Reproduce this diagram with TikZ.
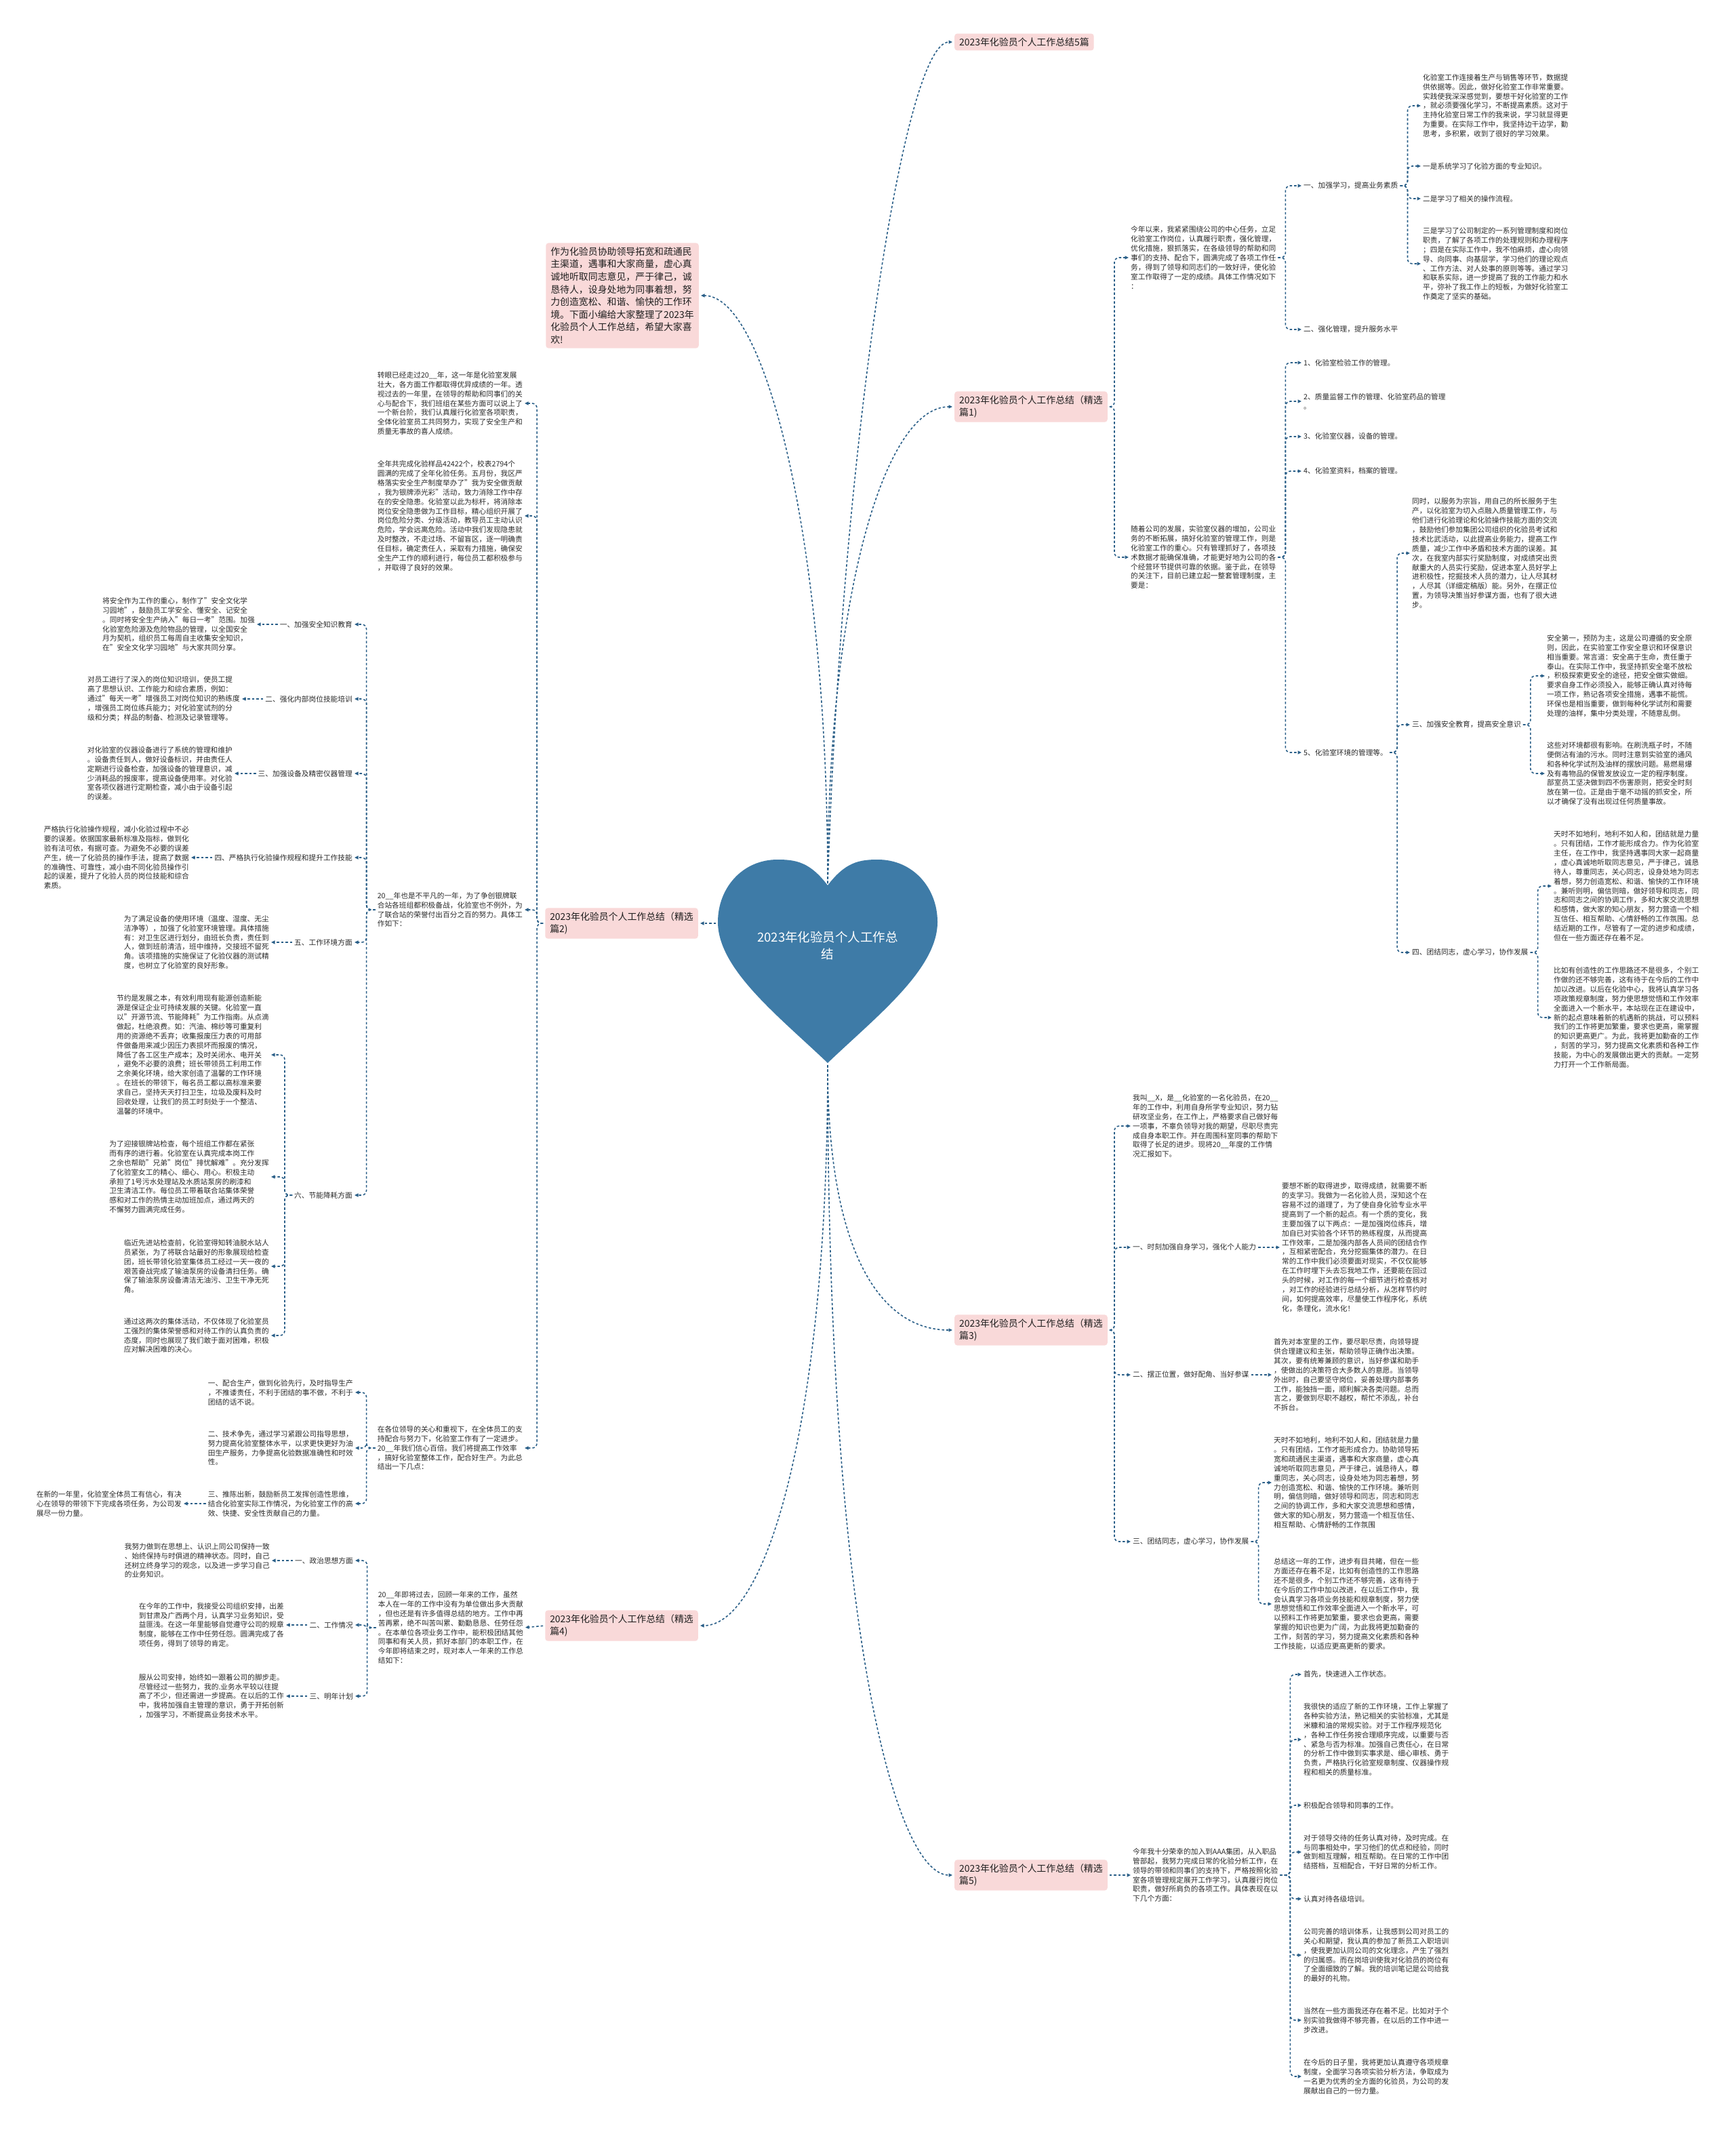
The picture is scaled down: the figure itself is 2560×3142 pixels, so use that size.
\documentclass[tikz,border=0pt]{standalone}
\usepackage{fontspec}
\setmainfont{Noto Sans CJK SC}
\usetikzlibrary{arrows.meta}
\definecolor{connblue}{HTML}{2A5F88}
\definecolor{heartblue}{HTML}{3E7BA7}
\definecolor{branchpink}{HTML}{F9D9D9}
\definecolor{leafgray}{HTML}{2B2B2B}
\definecolor{boxtext}{HTML}{1F1F1F}
\newcommand{\leaffont}{\fontsize{10.7}{13.9}\selectfont}
\newcommand{\branchfont}{\fontsize{13.9}{18.6}\selectfont}
\newcommand{\heartfont}{\fontsize{18.5}{25}\selectfont}
\tikzset{
  leaf/.style={font=\leaffont, align=left, inner sep=0pt, text=leafgray},
  branchbox/.style={fill=branchpink, rounded corners=4pt, font=\branchfont, align=left, inner xsep=7pt, inner ysep=6pt, text=boxtext},
  conn/.style={draw=connblue, line width=1.6pt, dash pattern=on 3.5pt off 3pt, ->, rounded corners=7pt, shorten <=3pt, shorten >=3pt},
}
\begin{document}
\begin{tikzpicture}[x=1pt, y=-1pt, >={Triangle[length=5.5pt,width=5pt]}]
    \fill[white] (0,0) rectangle (2560,3142);
    \useasboundingbox (0,0) rectangle (2560,3142);
    % heart
    \fill[heartblue] (1221,1306) .. controls (1195,1272) and (1175,1268) .. (1147,1268) .. controls (1095,1268) and (1059,1310) .. (1059,1360) .. controls (1059,1430) and (1150,1500) .. (1221,1568) .. controls (1292,1500) and (1383,1430) .. (1383,1360) .. controls (1383,1310) and (1347,1268) .. (1295,1268) .. controls (1267,1268) and (1247,1272) .. (1221,1306) -- cycle;
    \node[font=\heartfont, text=white, align=center] (heartlbl) at (1221,1395) {2023年化验员个人工作总\\结};
    \coordinate (hcleft) at (1221,1306);
    \coordinate (htip) at (1221,1568);
    \coordinate (hleft) at (1059,1362);
    % main branches
    \node[branchbox, anchor=west] (top) at (1408,62) {2023年化验员个人工作总结5篇};
    \node[branchbox, anchor=west] (p1) at (1408,600) {2023年化验员个人工作总结（精选\\篇1)};
    \node[branchbox, anchor=west] (p3) at (1408,1962) {2023年化验员个人工作总结（精选\\篇3)};
    \node[branchbox, anchor=west] (p5) at (1408,2766) {2023年化验员个人工作总结（精选\\篇5)};
    \node[branchbox, anchor=east] (intro) at (1031,436) {作为化验员协助领导拓宽和疏通民\\主渠道，遇事和大家商量，虚心真\\诚地听取同志意见，严于律己，诚\\恳待人，设身处地为同事着想，努\\力创造宽松、和谐、愉快的工作环\\境。下面小编给大家整理了2023年\\化验员个人工作总结，希望大家喜\\欢!};
    \node[branchbox, anchor=east] (p2) at (1030,1362) {2023年化验员个人工作总结（精选\\篇2)};
    \node[branchbox, anchor=east] (p4) at (1030,2398) {2023年化验员个人工作总结（精选\\篇4)};
    \draw[conn] (hcleft) .. controls (1240,700) and (1330,62) .. (top.west);
    \draw[conn] (hcleft) .. controls (1221,900) and (1300,600) .. (p1.west);
    \draw[conn] (hcleft) .. controls (1221,800) and (1130,436) .. (intro.east);
    \draw[conn] (htip) .. controls (1221,1850) and (1300,1962) .. (p3.west);
    \draw[conn] (htip) .. controls (1221,2400) and (1320,2766) .. (p5.west);
    \draw[conn] (htip) .. controls (1221,2100) and (1130,2398) .. (p4.east);
    \draw[conn] (hleft) -- (p2.east);
    % part 1
    \node[leaf, anchor=west] (a1) at (1668,380) {今年以来，我紧紧围绕公司的中心任务，立足\\化验室工作岗位，认真履行职责，强化管理，\\优化措施，狠抓落实，在各级领导的帮助和同\\事们的支持、配合下，圆满完成了各项工作任\\务，得到了领导和同志们的一致好评，使化验\\室工作取得了一定的成绩。具体工作情况如下\\：};
    \node[leaf, anchor=west] (a1i) at (1923,274) {一、加强学习，提高业务素质};
    \node[leaf, anchor=west] (a1i1) at (2099,156) {化验室工作连接着生产与销售等环节，数据提\\供依据等。因此，做好化验室工作非常重要。\\实践使我深深感觉到，要想干好化验室的工作\\，就必须要强化学习，不断提高素质。这对于\\主持化验室日常工作的我来说，学习就显得更\\为重要。在实际工作中，我坚持边干边学，勤\\思考，多积累，收到了很好的学习效果。};
    \node[leaf, anchor=west] (a1i2) at (2099,245) {一是系统学习了化验方面的专业知识。};
    \node[leaf, anchor=west] (a1i3) at (2099,293) {二是学习了相关的操作流程。};
    \node[leaf, anchor=west] (a1i4) at (2099,389) {三是学习了公司制定的一系列管理制度和岗位\\职责，了解了各项工作的处理规则和办理程序\\；四是在实际工作中，我不怕麻烦，虚心向领\\导、向同事、向基层学，学习他们的理论观点\\、工作方法、对人处事的原则等等。通过学习\\和联系实际，进一步提高了我的工作能力和水\\平，弥补了我工作上的短板，为做好化验室工\\作奠定了坚实的基础。};
    \node[leaf, anchor=west] (a1ii) at (1923,486) {二、强化管理，提升服务水平};
    \node[leaf, anchor=west] (a2) at (1668,822) {随着公司的发展，实验室仪器的增加，公司业\\务的不断拓展，搞好化验室的管理工作，则是\\化验室工作的重心。只有管理抓好了，各项技\\术数据才能确保准确，才能更好地为公司的各\\个经营环节提供可靠的依据。鉴于此，在领导\\的关注下，目前已建立起一整套管理制度，主\\要是：};
    \node[leaf, anchor=west] (b1) at (1923,535) {1、化验室检验工作的管理。};
    \node[leaf, anchor=west] (b2) at (1923,592) {2、质量监督工作的管理、化验室药品的管理\\。};
    \node[leaf, anchor=west] (b3) at (1923,644) {3、化验室仪器，设备的管理。};
    \node[leaf, anchor=west] (b4) at (1923,695) {4、化验室资料，档案的管理。};
    \node[leaf, anchor=west] (b5) at (1923,1110) {5、化验室环境的管理等。};
    \node[leaf, anchor=west] (b5a) at (2083,816) {同时，以服务为宗旨，用自己的所长服务于生\\产，以化验室为切入点融入质量管理工作，与\\他们进行化验理论和化验操作技能方面的交流\\，鼓励他们参加集团公司组织的化验员考试和\\技术比武活动，以此提高业务能力，提高工作\\质量，减少工作中矛盾和技术方面的误差。其\\次，在我室内部实行奖励制度，对成绩突出贡\\献重大的人员实行奖励，促进本室人员好学上\\进积极性，挖掘技术人员的潜力，让人尽其材\\，人尽其（详细定稿版）能。另外，在摆正位\\置，为领导决策当好参谋方面，也有了很大进\\步。};
    \node[leaf, anchor=west] (b5b) at (2083,1069) {三、加强安全教育，提高安全意识};
    \node[leaf, anchor=west] (b5b1) at (2282,997) {安全第一，预防为主，这是公司遵循的安全原\\则，因此，在实验室工作安全意识和环保意识\\相当重要。常言道：安全高于生命，责任重于\\泰山。在实际工作中，我坚持抓安全毫不放松\\，积极探索更安全的途径，把安全做实做细。\\要求自身工作必须投入，能够正确认真对待每\\一项工作，熟记各项安全措施，遇事不能慌。\\环保也是相当重要，做到每种化学试剂和需要\\处理的油样，集中分类处理，不随意乱倒。};
    \node[leaf, anchor=west] (b5b2) at (2282,1141) {这些对环境都很有影响。在刷洗瓶子时，不随\\便倒沾有油的污水。同时注意到实验室的通风\\和各种化学试剂及油样的摆放问题。易燃易爆\\及有毒物品的保管发放设立一定的程序制度。\\部室员工坚决做到四不伤害原则，把安全时刻\\放在第一位。正是由于毫不动摇的抓安全，所\\以才确保了没有出现过任何质量事故。};
    \node[leaf, anchor=west] (b5c) at (2083,1405) {四、团结同志，虚心学习，协作发展};
    \node[leaf, anchor=west] (b5c1) at (2292,1307) {天时不如地利，地利不如人和，团结就是力量\\。只有团结，工作才能形成合力。作为化验室\\主任，在工作中，我坚持遇事同大家一起商量\\，虚心真诚地听取同志意见，严于律己，诚恳\\待人，尊重同志，关心同志，设身处地为同志\\着想，努力创造宽松、和谐、愉快的工作环境\\。兼听则明，偏信则暗，做好领导和同志，同\\志和同志之间的协调工作，多和大家交流思想\\和感情，做大家的知心朋友，努力营造一个相\\互信任、相互帮助、心情舒畅的工作氛围。总\\结近期的工作，尽管有了一定的进步和成绩，\\但在一些方面还存在着不足。};
    \node[leaf, anchor=west] (b5c2) at (2292,1501) {比如有创造性的工作思路还不是很多，个别工\\作做的还不够完善，这有待于在今后的工作中\\加以改进。以后在化验中心，我将认真学习各\\项政策规章制度，努力使思想觉悟和工作效率\\全面进入一个新水平，本站现在正在建设中，\\新的起点意味着新的机遇新的挑战，可以预料\\我们的工作将更加繁重，要求也更高，需掌握\\的知识更高更广。为此，我将更加勤奋的工作\\，刻苦的学习，努力提高文化素质和各种工作\\技能，为中心的发展做出更大的贡献。一定努\\力打开一个工作新局面。};
    \draw[conn] (p1.east) -- ++(10,0) |- (a1.west);
    \draw[conn] (p1.east) -- ++(10,0) |- (a2.west);
    \draw[conn] (a1.east) -- ++(14,0) |- (a1i.west);
    \draw[conn] (a1.east) -- ++(14,0) |- (a1ii.west);
    \draw[conn] (a1i.east) -- ++(14,0) |- (a1i1.west);
    \draw[conn] (a1i.east) -- ++(14,0) |- (a1i2.west);
    \draw[conn] (a1i.east) -- ++(14,0) |- (a1i3.west);
    \draw[conn] (a1i.east) -- ++(14,0) |- (a1i4.west);
    \draw[conn] (a2.east) -- ++(14,0) |- (b1.west);
    \draw[conn] (a2.east) -- ++(14,0) |- (b2.west);
    \draw[conn] (a2.east) -- ++(14,0) |- (b3.west);
    \draw[conn] (a2.east) -- ++(14,0) |- (b4.west);
    \draw[conn] (a2.east) -- ++(14,0) |- (b5.west);
    \draw[conn] (b5.east) -- ++(14,0) |- (b5a.west);
    \draw[conn] (b5.east) -- ++(14,0) |- (b5b.west);
    \draw[conn] (b5.east) -- ++(14,0) |- (b5c.west);
    \draw[conn] (b5b.east) -- ++(14,0) |- (b5b1.west);
    \draw[conn] (b5b.east) -- ++(14,0) |- (b5b2.west);
    \draw[conn] (b5c.east) -- ++(14,0) |- (b5c1.west);
    \draw[conn] (b5c.east) -- ++(14,0) |- (b5c2.west);
    % part 3
    \node[leaf, anchor=west] (c1) at (1671,1661) {我叫\_\_X，是\_\_化验室的一名化验员，在20\_\_\\年的工作中，利用自身所学专业知识，努力钻\\研攻坚业务，在工作上，严格要求自己做好每\\一项事，不辜负领导对我的期望，尽职尽责完\\成自身本职工作。并在周围科室同事的帮助下\\取得了长足的进步。现将20\_\_年度的工作情\\况汇报如下。};
    \node[leaf, anchor=west] (c2) at (1671,1840) {一、时刻加强自身学习，强化个人能力};
    \node[leaf, anchor=west] (c2a) at (1891,1840) {要想不断的取得进步，取得成绩，就需要不断\\的支学习。我做为一名化验人员，深知这个在\\容易不过的道理了，为了使自身化验专业水平\\提高到了一个新的起点。有一个质的变化，我\\主要加强了以下两点：一是加强岗位练兵，增\\加自已对实验各个环节的熟练程度，从而提高\\工作效率，二是加强内部各人员间的团结合作\\，互相紧密配合，充分挖掘集体的潜力。在日\\常的工作中我们必须要面对现实，不仅仅能够\\在工作时埋下头去忘我地工作，还要能在回过\\头的时候，对工作的每一个细节进行检查核对\\，对工作的经验进行总结分析，从怎样节约时\\间，如何提高效率，尽量使工作程序化，系统\\化，条理化，流水化！};
    \node[leaf, anchor=west] (c3) at (1671,2028) {二、摆正位置，做好配角、当好参谋};
    \node[leaf, anchor=west] (c3a) at (1879,2028) {首先对本室里的工作，要尽职尽责，向领导提\\供合理建议和主张，帮助领导正确作出决策。\\其次，要有统筹兼顾的意识，当好参谋和助手\\，使做出的决策符合大多数人的意愿。当领导\\外出时，自己要坚守岗位，妥善处理内部事务\\工作，能独挡一面，顺利解决各类问题。总而\\言之，要做到尽职不越权，帮忙不添乱，补台\\不拆台。};
    \node[leaf, anchor=west] (c4) at (1671,2274) {三、团结同志，虚心学习，协作发展};
    \node[leaf, anchor=west] (c4a) at (1879,2187) {天时不如地利，地利不如人和，团结就是力量\\。只有团结，工作才能形成合力。协助领导拓\\宽和疏通民主渠道，遇事和大家商量，虚心真\\诚地听取同志意见，严于律己，诚恳待人，尊\\重同志，关心同志，设身处地为同志着想，努\\力创造宽松、和谐、愉快的工作环境。兼听则\\明，偏信则暗，做好领导和同志，同志和同志\\之间的协调工作，多和大家交流思想和感情，\\做大家的知心朋友，努力营造一个相互信任、\\相互帮助、心情舒畅的工作氛围};
    \node[leaf, anchor=west] (c4b) at (1879,2366) {总结这一年的工作，进步有目共睹，但在一些\\方面还存在着不足，比如有创造性的工作思路\\还不是很多，个别工作还不够完善，这有待于\\在今后的工作中加以改进，在以后工作中，我\\会认真学习各项业务技能和规章制度，努力使\\思想觉悟和工作效率全面进入一个新水平，可\\以预料工作将更加繁重，要求也会更高，需要\\掌握的知识也更为广阔，为此我将更加勤奋的\\工作，刻苦的学习，努力提高文化素质和各种\\工作技能，以适应更高更新的要求。};
    \draw[conn] (p3.east) -- ++(10,0) |- (c1.west);
    \draw[conn] (p3.east) -- ++(10,0) |- (c2.west);
    \draw[conn] (p3.east) -- ++(10,0) |- (c3.west);
    \draw[conn] (p3.east) -- ++(10,0) |- (c4.west);
    \draw[conn] (c2.east) -- (c2a.west);
    \draw[conn] (c3.east) -- (c3a.west);
    \draw[conn] (c4.east) -- ++(14,0) |- (c4a.west);
    \draw[conn] (c4.east) -- ++(14,0) |- (c4b.west);
    % part 5
    \node[leaf, anchor=west] (e0) at (1671,2766) {今年我十分荣幸的加入到AAA集团，从入职品\\管部起，我努力完成日常的化验分析工作，在\\领导的带领和同事们的支持下，严格按照化验\\室各项管理规定展开工作学习，认真履行岗位\\职责，做好所肩负的各项工作。具体表现在以\\下几个方面：};
    \node[leaf, anchor=west] (e1) at (1923,2470) {首先，快速进入工作状态。};
    \node[leaf, anchor=west] (e2) at (1923,2566) {我很快的适应了新的工作环境，工作上掌握了\\各种实验方法，熟记相关的实验标准，尤其是\\米糠和油的常规实验。对于工作程序规范化\\，各种工作任务按合理顺序完成，以重要与否\\、紧急与否为标准。加强自己责任心，在日常\\的分析工作中做到实事求是、细心审核、勇于\\负责，严格执行化验室规章制度、仪器操作规\\程和相关的质量标准。};
    \node[leaf, anchor=west] (e3) at (1923,2663) {积极配合领导和同事的工作。};
    \node[leaf, anchor=west] (e4) at (1923,2732) {对于领导交待的任务认真对待，及时完成。在\\与同事相处中，学习他们的优点和经验，同时\\做到相互理解，相互帮助。在日常的工作中团\\结搭档，互相配合，干好日常的分析工作。};
    \node[leaf, anchor=west] (e5) at (1923,2801) {认真对待各级培训。};
    \node[leaf, anchor=west] (e6) at (1923,2884) {公司完善的培训体系，让我感到公司对员工的\\关心和期望，我认真的参加了新员工入职培训\\，使我更加认同公司的文化理念，产生了强烈\\的归属感。而在岗培训使我对化验员的岗位有\\了全面细致的了解。我的培训笔记是公司给我\\的最好的礼物。};
    \node[leaf, anchor=west] (e7) at (1923,2980) {当然在一些方面我还存在着不足。比如对于个\\别实验我做得不够完善，在以后的工作中进一\\步改进。};
    \node[leaf, anchor=west] (e8) at (1923,3063) {在今后的日子里，我将更加认真遵守各项规章\\制度，全面学习各项实验分析方法，争取成为\\一名更为优秀的全方面的化验员，为公司的发\\展献出自己的一份力量。};
    \draw[conn] (p5.east) -- (e0.west);
    \draw[conn] (e0.east) -- ++(18,0) |- (e1.west);
    \draw[conn] (e0.east) -- ++(18,0) |- (e2.west);
    \draw[conn] (e0.east) -- ++(18,0) |- (e3.west);
    \draw[conn] (e0.east) -- ++(18,0) |- (e4.west);
    \draw[conn] (e0.east) -- ++(18,0) |- (e5.west);
    \draw[conn] (e0.east) -- ++(18,0) |- (e6.west);
    \draw[conn] (e0.east) -- ++(18,0) |- (e7.west);
    \draw[conn] (e0.east) -- ++(18,0) |- (e8.west);
    % part 2
    \node[leaf, anchor=east] (f1) at (771,595) {转眼已经走过20\_\_年，这一年是化验室发展\\壮大，各方面工作都取得优异成绩的一年。透\\视过去的一年里，在领导的帮助和同事们的关\\心与配合下，我们班组在某些方面可以说上了\\一个新台阶，我们认真履行化验室各项职责，\\全体化验室员工共同努力，实现了安全生产和\\质量无事故的喜人成绩。};
    \node[leaf, anchor=east] (f2) at (771,761) {全年共完成化验样品42422个，校表2794个\\圆满的完成了全年化验任务。五月份，我区严\\格落实安全生产制度举办了"我为安全做贡献\\，我为银牌添光彩"活动，致力消除工作中存\\在的安全隐患。化验室以此为标杆，将消除本\\岗位安全隐患做为工作目标，精心组织开展了\\岗位危险分类、分级活动，教导员工主动认识\\危险，学会远离危险。活动中我们发现隐患就\\及时整改，不走过场、不留盲区，逐一明确责\\任目标，确定责任人，采取有力措施，确保安\\全生产工作的顺利进行，每位员工都积极参与\\，并取得了良好的效果。};
    \node[leaf, anchor=east] (f3) at (771,1342) {20\_\_年也是不平凡的一年，为了争创银牌联\\合站各班组都积极备战，化验室也不例外，为\\了联合站的荣誉付出百分之百的努力。具体工\\作如下：};
    \node[leaf, anchor=east] (g1) at (520,921) {一、加强安全知识教育};
    \node[leaf, anchor=east] (g1a) at (376,921) {将安全作为工作的重心，制作了"安全文化学\\习园地"，鼓励员工学安全、懂安全、记安全\\。同时将安全生产纳入"每日一考"范围。加强\\化验室危险源及危险物品的管理，以全国安全\\月为契机，组织员工每周自主收集安全知识，\\在"安全文化学习园地"与大家共同分享。};
    \node[leaf, anchor=east] (g2) at (520,1031) {二、强化内部岗位技能培训};
    \node[leaf, anchor=east] (g2a) at (354,1031) {对员工进行了深入的岗位知识培训，使员工提\\高了思想认识、工作能力和综合素质，例如：\\通过"每天一考"增强员工对岗位知识的熟练度\\，增强员工岗位练兵能力；对化验室试剂的分\\级和分类；样品的制备、检测及记录管理等。};
    \node[leaf, anchor=east] (g3) at (520,1141) {三、加强设备及精密仪器管理};
    \node[leaf, anchor=east] (g3a) at (343,1141) {对化验室的仪器设备进行了系统的管理和维护\\。设备责任到人，做好设备标识，并由责任人\\定期进行设备检查，加强设备的管理意识，减\\少消耗品的报废率，提高设备使用率。对化验\\室各项仪器进行定期检查，减小由于设备引起\\的误差。};
    \node[leaf, anchor=east] (g4) at (520,1265) {四、严格执行化验操作规程和提升工作技能};
    \node[leaf, anchor=east] (g4a) at (279,1265) {严格执行化验操作规程，减小化验过程中不必\\要的误差。依据国家最新标准及指标，做到化\\验有法可依，有据可查。为避免不必要的误差\\产生，统一了化验员的操作手法，提高了数据\\的准确性、可靠性，减小由不同化验员操作引\\起的误差，提升了化验人员的岗位技能和综合\\素质。};
    \node[leaf, anchor=east] (g5) at (520,1390) {五、工作环境方面};
    \node[leaf, anchor=east] (g5a) at (397,1390) {为了满足设备的使用环境（温度、湿度、无尘\\洁净等），加强了化验室环境管理。具体措施\\有：对卫生区进行划分，由班长负责，责任到\\人，做到班前清洁，班中维持，交接班不留死\\角。该项措施的实施保证了化验仪器的测试精\\度，也树立了化验室的良好形象。};
    \node[leaf, anchor=east] (g6) at (520,1763) {六、节能降耗方面};
    \node[leaf, anchor=east] (g6a) at (397,1556) {节约是发展之本，有效利用现有能源创造新能\\源是保证企业可持续发展的关键。化验室一直\\以"开源节流、节能降耗"为工作指南。从点滴\\做起，杜绝浪费。如：汽油、棉纱等可重复利\\用的资源绝不丢弃；收集报废压力表的可用部\\件做备用来减少因压力表损坏而报废的情况，\\降低了各工区生产成本；及时关闭水、电开关\\，避免不必要的浪费；班长带领员工利用工作\\之余美化环境，给大家创造了温馨的工作环境\\。在班长的带领下，每名员工都以高标准来要\\求自己，坚持天天打扫卫生，垃圾及废料及时\\回收处理，让我们的员工时刻处于一个整洁、\\温馨的环境中。};
    \node[leaf, anchor=east] (g6b) at (397,1736) {为了迎接银牌站检查，每个班组工作都在紧张\\而有序的进行着。化验室在认真完成本岗工作\\之余也帮助"兄弟"岗位"排忧解难"。充分发挥\\了化验室女工的精心、细心、用心。积极主动\\承担了1号污水处理站及水质站泵房的刷漆和\\卫生清洁工作。每位员工带着联合站集体荣誉\\感和对工作的热情主动加班加点，通过两天的\\不懈努力圆满完成任务。};
    \node[leaf, anchor=east] (g6c) at (397,1868) {临近先进站检查前，化验室得知转油脱水站人\\员紧张，为了将联合站最好的形象展现给检查\\团，班长带领化验室集体员工经过一天一夜的\\艰苦奋战完成了输油泵房的设备清扫任务。确\\保了输油泵房设备清洁无油污、卫生干净无死\\角。};
    \node[leaf, anchor=east] (g6d) at (397,1970) {通过这两次的集体活动，不仅体现了化验室员\\工强烈的集体荣誉感和对待工作的认真负责的\\态度，同时也展现了我们敢于面对困难，积极\\应对解决困难的决心。};
    \node[leaf, anchor=east] (f4) at (771,2136) {在各位领导的关心和重视下，在全体员工的支\\持配合与努力下，化验室工作有了一定进步。\\20\_\_年我们信心百倍。我们将提高工作效率\\，搞好化验室整体工作，配合好生产。为此总\\结出一下几点：};
    \node[leaf, anchor=east] (h1) at (521,2054) {一、配合生产，做到化验先行，及时指导生产\\，不推诿责任，不利于团结的事不做，不利于\\团结的话不说。};
    \node[leaf, anchor=east] (h2) at (521,2136) {二、技术争先，通过学习紧跟公司指导思想，\\努力提高化验室整体水平，以求更快更好为油\\田生产服务，力争提高化验数据准确性和时效\\性。};
    \node[leaf, anchor=east] (h3) at (521,2218) {三、推陈出新，鼓励新员工发挥创造性思维，\\结合化验室实际工作情况，为化验室工作的高\\效、快捷、安全性贡献自己的力量。};
    \node[leaf, anchor=east] (h3a) at (268,2218) {在新的一年里，化验室全体员工有信心，有决\\心在领导的带领下下完成各项任务，为公司发\\展尽一份力量。};
    \draw[conn] (p2.west) -- ++(-12,0) |- (f1.east);
    \draw[conn] (p2.west) -- ++(-12,0) |- (f2.east);
    \draw[conn] (p2.west) -- ++(-12,0) |- (f3.east);
    \draw[conn] (p2.west) -- ++(-12,0) |- (f4.east);
    \draw[conn] (f3.west) -- ++(-16,0) |- (g1.east);
    \draw[conn] (f3.west) -- ++(-16,0) |- (g2.east);
    \draw[conn] (f3.west) -- ++(-16,0) |- (g3.east);
    \draw[conn] (f3.west) -- ++(-16,0) |- (g4.east);
    \draw[conn] (f3.west) -- ++(-16,0) |- (g5.east);
    \draw[conn] (f3.west) -- ++(-16,0) |- (g6.east);
    \draw[conn] (g1.west) -- (g1a.east);
    \draw[conn] (g2.west) -- (g2a.east);
    \draw[conn] (g3.west) -- (g3a.east);
    \draw[conn] (g4.west) -- (g4a.east);
    \draw[conn] (g5.west) -- (g5a.east);
    \draw[conn] (g6.west) -- ++(-14,0) |- (g6a.east);
    \draw[conn] (g6.west) -- ++(-14,0) |- (g6b.east);
    \draw[conn] (g6.west) -- ++(-14,0) |- (g6c.east);
    \draw[conn] (g6.west) -- ++(-14,0) |- (g6d.east);
    \draw[conn] (f4.west) -- ++(-16,0) |- (h1.east);
    \draw[conn] (f4.west) -- ++(-16,0) |- (h2.east);
    \draw[conn] (f4.west) -- ++(-16,0) |- (h3.east);
    \draw[conn] (h3.west) -- (h3a.east);
    % part 4
    \node[leaf, anchor=east] (k1) at (772,2401) {20\_\_年即将过去，回顾一年来的工作，虽然\\本人在一年的工作中没有为单位做出多大贡献\\，但也还是有许多值得总结的地方。工作中再\\苦再累，绝不叫苦叫累、勤勤恳恳、任劳任怨\\。在本单位各项业务工作中，能积极团结其他\\同事和有关人员，抓好本部门的本职工作，在\\今年即将结束之时，现对本人一年来的工作总\\结如下：};
    \node[leaf, anchor=east] (k1a) at (521,2302) {一、政治思想方面};
    \node[leaf, anchor=east] (k1a1) at (398,2302) {我努力做到在思想上、认识上同公司保持一致\\、始终保持与时俱进的精神状态。同时，自己\\还树立终身学习的观念，以及进一步学习自己\\的业务知识。};
    \node[leaf, anchor=east] (k1b) at (521,2397) {二、工作情况};
    \node[leaf, anchor=east] (k1b1) at (419,2397) {在今年的工作中，我接受公司组织安排，出差\\到甘肃及广西两个月，认真学习业务知识，受\\益匪浅。在这一年里能够自觉遵守公司的规章\\制度，能够在工作中任劳任怨。圆满完成了各\\项任务，得到了领导的肯定。};
    \node[leaf, anchor=east] (k1c) at (521,2502) {三、明年计划};
    \node[leaf, anchor=east] (k1c1) at (419,2502) {服从公司安排，始终如一跟着公司的脚步走。\\尽管经过一些努力，我的.业务水平较以往提\\高了不少，但还需进一步提高。在以后的工作\\中，我将加强自主管理的意识，勇于开拓创新\\，加强学习，不断提高业务技术水平。};
    \draw[conn] (p4.west) -- (k1.east);
    \draw[conn] (k1.west) -- ++(-16,0) |- (k1a.east);
    \draw[conn] (k1.west) -- ++(-16,0) |- (k1b.east);
    \draw[conn] (k1.west) -- ++(-16,0) |- (k1c.east);
    \draw[conn] (k1a.west) -- (k1a1.east);
    \draw[conn] (k1b.west) -- (k1b1.east);
    \draw[conn] (k1c.west) -- (k1c1.east);
\end{tikzpicture}
\end{document}
